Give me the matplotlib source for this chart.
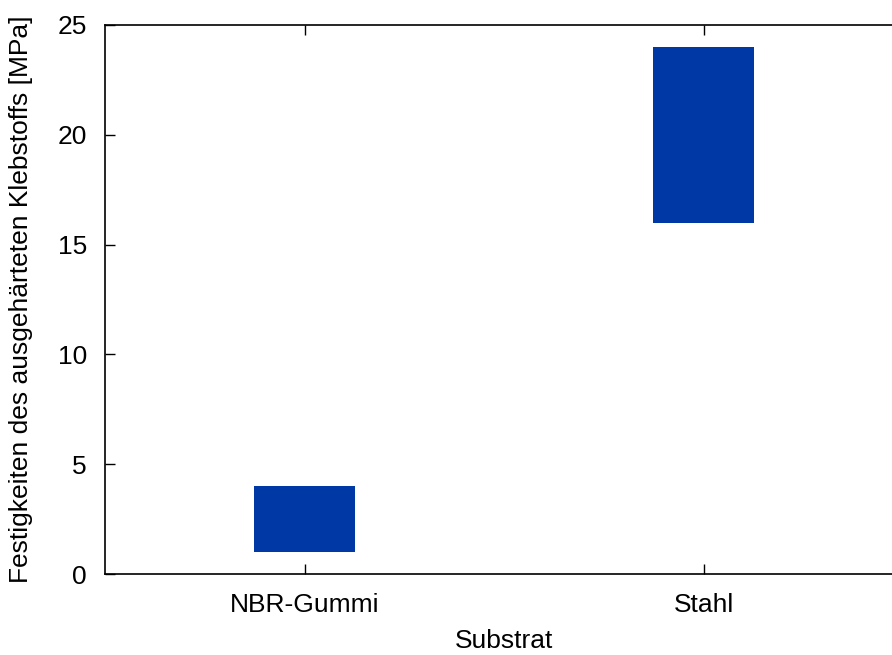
#!/usr/bin/env python3
import numpy as np
from matplotlib import pyplot as plt

# substrates and floating bar ranges (MPa)
substrates = ["NBR-Gummi", "Stahl"]
low = [1.0, 16.0]
high = [4.0, 24.0]

plt.rcParams["font.family"] = ["Liberation Sans", "DejaVu Sans"]
plt.rcParams["font.size"] = 19

fig = plt.figure(figsize=(8.92, 6.55), dpi=100)
# axes runs past the right edge like the original (clipped frame)
ax = fig.add_axes([105 / 892, 1 - 574 / 655, 798 / 892, 549 / 655])

x = np.arange(len(substrates))
heights = [h - l for l, h in zip(low, high)]
ax.bar(x, heights, bottom=low, width=0.255, color="#0039a6", linewidth=0)

ax.set_xlim(-0.5, 1.5)
ax.set_ylim(0, 25)
ax.set_xticks(x)
ax.set_xticklabels(substrates)
ax.set_yticks([0, 5, 10, 15, 20, 25])
ax.tick_params(direction="in", length=7, width=1, top=True, right=True)
ax.tick_params(axis="y", pad=13)
ax.tick_params(axis="x", pad=14)
for s in ax.spines.values():
    s.set_linewidth(1.2)

ax.set_xlabel("Substrat", labelpad=8)
ax.set_ylabel("Festigkeiten des ausgehärteten Klebstoffs [MPa]", labelpad=18)

fig.savefig("out.png", dpi=100)
